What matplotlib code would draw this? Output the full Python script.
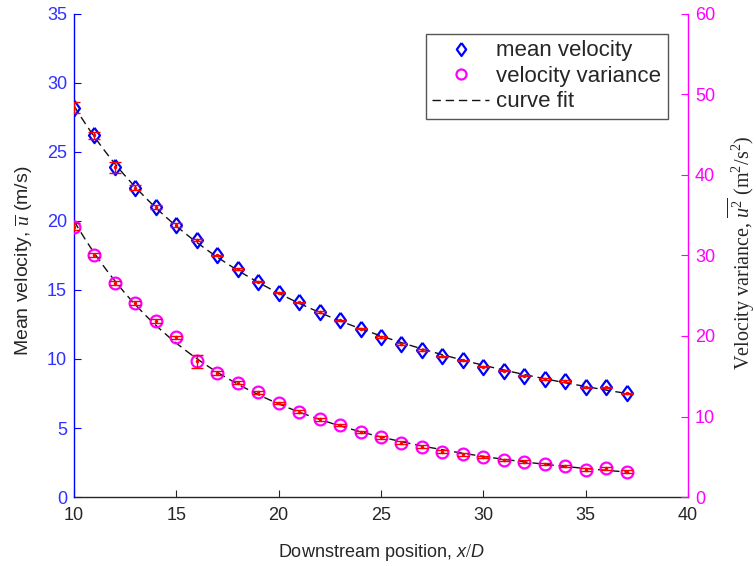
import numpy as np
import matplotlib
matplotlib.use("Agg")
import matplotlib.pyplot as plt

plt.rcParams['font.family'] = ['Liberation Sans', 'DejaVu Sans']
plt.rcParams['mathtext.fontset'] = 'custom'
plt.rcParams['mathtext.rm'] = 'Liberation Serif'
plt.rcParams['mathtext.it'] = 'Liberation Sans:italic'
plt.rcParams['mathtext.sf'] = 'Liberation Serif:italic'

# ---- data ----
x_pos = np.arange(10, 38)
mean_velocity = [28.2, 26.2, 23.9, 22.4, 21.0, 19.7, 18.6, 17.5, 16.5, 15.6,
                 14.8, 14.1, 13.4, 12.8, 12.2, 11.6, 11.1, 10.65, 10.2, 9.9,
                 9.45, 9.15, 8.8, 8.55, 8.4, 7.95, 7.95, 7.5]
mean_err = [0.4, 0.25, 0.4, 0.18, 0.15, 0.12, 0.08, 0.06, 0.06, 0.05,
            0.05, 0.05, 0.05, 0.05, 0.05, 0.05, 0.05, 0.05, 0.05, 0.05,
            0.05, 0.05, 0.05, 0.05, 0.05, 0.05, 0.05, 0.05]
velocity_variance = [33.6, 30.05, 26.6, 24.05, 21.85, 19.85, 16.85, 15.4, 14.2, 13.0,
                     11.65, 10.6, 9.65, 8.95, 8.1, 7.4, 6.75, 6.25, 5.65, 5.3,
                     4.95, 4.6, 4.4, 4.1, 3.85, 3.4, 3.55, 3.15]
var_err = [0.4, 0.25, 0.25, 0.25, 0.2, 0.2, 0.85, 0.3, 0.15, 0.15,
           0.15, 0.15, 0.15, 0.15, 0.15, 0.15, 0.15, 0.15, 0.15, 0.15,
           0.15, 0.15, 0.15, 0.15, 0.15, 0.15, 0.2, 0.2]
x_ticks = [10, 15, 20, 25, 30, 35, 40]
left_ticks = [0, 5, 10, 15, 20, 25, 30, 35]
right_ticks = [0, 10, 20, 30, 40, 50, 60]

# ---- curve fits (derived from data) ----
xf = np.linspace(x_pos[0], x_pos[-1], 200)
fit_u = np.exp(np.polyval(np.polyfit(np.log(x_pos), np.log(mean_velocity), 2), np.log(xf)))
fit_v = np.exp(np.polyval(np.polyfit(np.log(x_pos), np.log(velocity_variance), 2), np.log(xf)))

BLUE = '#0000ff'
TICKBLUE = '#3030ff'
MAG = '#ff00ff'
DARK = '#262626'

fig = plt.figure(figsize=(7.56, 5.66), dpi=100)
ax = fig.add_axes([0.0979, 0.1219, 0.8122, 0.8534])
ax2 = ax.twinx()
ax2.set_position([0.0979, 0.1219, 0.8122, 0.8534])

diamond = [(0, 1), (0.72, 0), (0, -1), (-0.72, 0), (0, 1)]

# mean velocity (left)
ax.plot(xf, fit_u, color='#111111', lw=1.0, dashes=(6, 3.5), zorder=2)
h1, = ax.plot(x_pos, mean_velocity, linestyle='none', marker=diamond, ms=11,
              mfc='none', mec=BLUE, mew=1.6, zorder=3)
ax.errorbar(x_pos, mean_velocity, yerr=mean_err, fmt='.', color='red', ms=3,
            elinewidth=1.0, capsize=4, capthick=1.0, zorder=4)

# variance (right)
ax2.plot(xf, fit_v, color='#111111', lw=1.0, dashes=(6, 3.5), zorder=2)
h2, = ax2.plot(x_pos, velocity_variance, linestyle='none', marker='o', ms=8.5,
               mfc='none', mec=MAG, mew=1.6, zorder=3)
ax2.errorbar(x_pos, velocity_variance, yerr=var_err, fmt='.', color='red', ms=3,
             elinewidth=1.0, capsize=4, capthick=1.0, zorder=4)

h3, = ax.plot([], [], color='#111111', lw=1.0, dashes=(6, 3.5))

ax.set_xlim(10, 40)
ax.set_ylim(0, 35)
ax2.set_ylim(0, 60)
ax.set_xticks(x_ticks)
ax.set_yticks(left_ticks)
ax2.set_yticks(right_ticks)

for a in (ax, ax2):
    a.spines['top'].set_visible(False)
ax.spines['left'].set_color(BLUE)
ax.spines['right'].set_visible(False)
ax2.spines['left'].set_visible(False)
ax2.spines['bottom'].set_visible(False)
ax2.spines['right'].set_color(MAG)
ax.spines['bottom'].set_color(DARK)
for s in ('left', 'bottom'):
    ax.spines[s].set_linewidth(1.0)
ax2.spines['right'].set_linewidth(1.0)

ax.tick_params(axis='x', direction='in', length=5, colors=DARK, labelsize=13, pad=7)
ax.tick_params(axis='y', direction='in', length=5, colors=BLUE, labelcolor=TICKBLUE,
               labelsize=13, pad=5)
ax2.tick_params(axis='y', direction='in', length=5, colors=MAG, labelsize=13, pad=5)

ax.set_xlabel(r'Downstream position, $\mathit{x/D}$', fontsize=13, color=DARK)
ax.xaxis.set_label_coords(0.5, -0.094)
ax.set_ylabel(r'Mean velocity, $\overline{\mathsf{u}}$ (m/s)', fontsize=14, color=DARK)
ax.yaxis.label.set_va('center')
ax.yaxis.set_label_coords(-0.0814, 0.49)
ax2.set_ylabel(r'Velocity variance, $\overline{\mathsf{u}^{2}}$ (m$^{2}$/s$^{2}$)',
               fontsize=14.5, color=DARK, family=['Liberation Serif'])
ax2.yaxis.label.set_va('center')
ax2.yaxis.set_label_coords(1.087, 0.505)

leg = ax2.legend([h1, h2, h3], ['mean velocity', 'velocity variance', 'curve fit'],
                 loc='upper right', bbox_to_anchor=(0.967, 0.959), borderaxespad=0,
                 fontsize=16, frameon=True, fancybox=False, framealpha=1,
                 handlelength=2.57, labelspacing=0.2, borderpad=0.3,
                 handletextpad=0.3, markerscale=0.85)
leg.get_frame().set_edgecolor('#555555')
leg.get_frame().set_linewidth(1.0)
for t in leg.get_texts():
    t.set_color(DARK)

fig.savefig('out.png', dpi=100)
